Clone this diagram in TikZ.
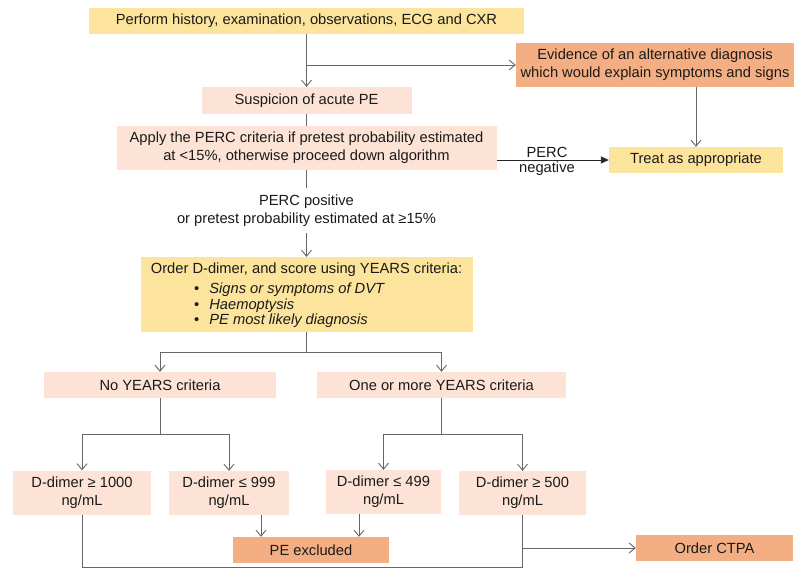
\documentclass[tikz,border=0pt]{standalone}
\usepackage{fontspec}
\setmainfont{Liberation Sans}
\usetikzlibrary{arrows.meta,calc}
\definecolor{ylwc}{HTML}{FDE49C}
\definecolor{pchc}{HTML}{FCE3D5}
\definecolor{orgc}{HTML}{F4AE83}
\definecolor{linec}{HTML}{666666}
\definecolor{txtc}{HTML}{1A1A1A}
\tikzset{
  boxbase/.style={inner sep=0pt, align=center, text=txtc, font=\fontsize{14.7}{18}\selectfont},
  ylwbox/.style={boxbase, fill=ylwc},
  pchbox/.style={boxbase, fill=pchc},
  orgbox/.style={boxbase, fill=orgc},
  plaintext/.style={boxbase},
  ln/.style={draw=linec, line width=0.9pt},
  arr/.style={ln, -{Straight Barb[length=6pt,width=10pt,line width=0.9pt]}},
  arrf/.style={draw=black!85, line width=0.9pt, -{Triangle[length=8pt,width=7pt]}}
}
\begin{document}
\begin{tikzpicture}[x=1pt,y=-1pt]
\useasboundingbox (0,0) rectangle (794,568);
% boxes
\node[ylwbox, minimum width=435, minimum height=26] (top) at (306.5,20.5) {Perform history, examination, observations, ECG and CXR};
\node[orgbox, minimum width=278, minimum height=44] (evid) at (655,65) {Evidence of an alternative diagnosis\\which would explain symptoms and signs};
\node[pchbox, minimum width=210, minimum height=27] (susp) at (306.5,100.5) {Suspicion of acute PE};
\node[pchbox, minimum width=380, minimum height=44] (apply) at (306.5,148) {Apply the PERC criteria if pretest probability estimated\\at <15\%, otherwise proceed down algorithm};
\node[ylwbox, minimum width=174, minimum height=26] (treat) at (696,160) {Treat as appropriate};
\node[plaintext] (pos) at (306.5,211) {PERC positive\\or pretest probability estimated at ≥15\%};
\node[ylwbox, minimum width=332, minimum height=75] (order) at (306.5,294.5) {};
\node[plaintext] (ordert) at (306.5,270) {Order D-dimer, and score using YEARS criteria:};
\node[plaintext, anchor=north west, align=left, font=\fontsize{14.7}{15}\selectfont] (orderl) at (194,283)
  {\begin{tabular}{@{}l@{\hspace{10pt}}l@{}}•&\textit{Signs or symptoms of DVT}\\•&\textit{Haemoptysis}\\•&\textit{PE most likely diagnosis}\end{tabular}};
\node[pchbox, minimum width=232, minimum height=26] (noy) at (160,385) {No YEARS criteria};
\node[pchbox, minimum width=249, minimum height=26] (one) at (441.5,385) {One or more YEARS criteria};
\node[pchbox, minimum width=138, minimum height=44] (d1000) at (82,492.5) {D-dimer ≥ 1000\\ng/mL};
\node[pchbox, minimum width=120, minimum height=44] (d999) at (229,493) {D-dimer ≤ 999\\ng/mL};
\node[pchbox, minimum width=115, minimum height=44] (d499) at (383.5,492) {D-dimer ≤ 499\\ng/mL};
\node[pchbox, minimum width=127, minimum height=44] (d500) at (522.5,493) {D-dimer ≥ 500\\ng/mL};
\node[orgbox, minimum width=156, minimum height=26] (pex) at (311,550) {PE excluded};
\node[orgbox, minimum width=157, minimum height=26] (ctpa) at (714.5,548) {Order CTPA};
% connectors
\coordinate (b1) at (306.5,65);
\draw[arr] (top) -- (susp);
\draw[arr] (b1) -- (evid.west);
\draw[ln] (susp) -- (apply);
\draw[arrf] (apply.east |- treat.west) -- (treat.west);
\node[plaintext] (perc1) at (547,152) {PERC};
\node[plaintext] (perc2) at (547,169) {negative};
\draw[arr] (treat.north |- evid.south) -- (treat.north);
\coordinate (c1) at (306.5,188);
\coordinate (c2) at (306.5,233);
\draw[ln] (apply) -- (c1);
\draw[arr] (c2) -- (order);
\coordinate (j1) at (306.5,352);
\draw[ln] (order) -- (j1);
\draw[arr] (j1) -| (noy.north);
\draw[arr] (j1) -| (one.north);
\coordinate (j2) at (160,434);
\draw[ln] (noy) -- (j2);
\draw[arr] (j2) -| (d1000.north);
\draw[arr] (j2) -| (d999.north);
\coordinate (j3) at (441.5,434);
\draw[ln] (one) -- (j3);
\draw[arr] (j3) -| (d499.north);
\draw[arr] (j3) -| (d500.north);
\draw[arr] ([xshift=32pt]d999.south) -- ([xshift=32pt]d999.south |- pex.north);
\draw[arr] ([xshift=-24.5pt]d499.south) -- ([xshift=-24.5pt]d499.south |- pex.north);
\coordinate (j4) at (522.5,567);
\draw[ln] (d1000.south) |- (j4) -- (d500.south);
\draw[arr] (d500.south |- ctpa.west) -- (ctpa.west);
\end{tikzpicture}
\end{document}
